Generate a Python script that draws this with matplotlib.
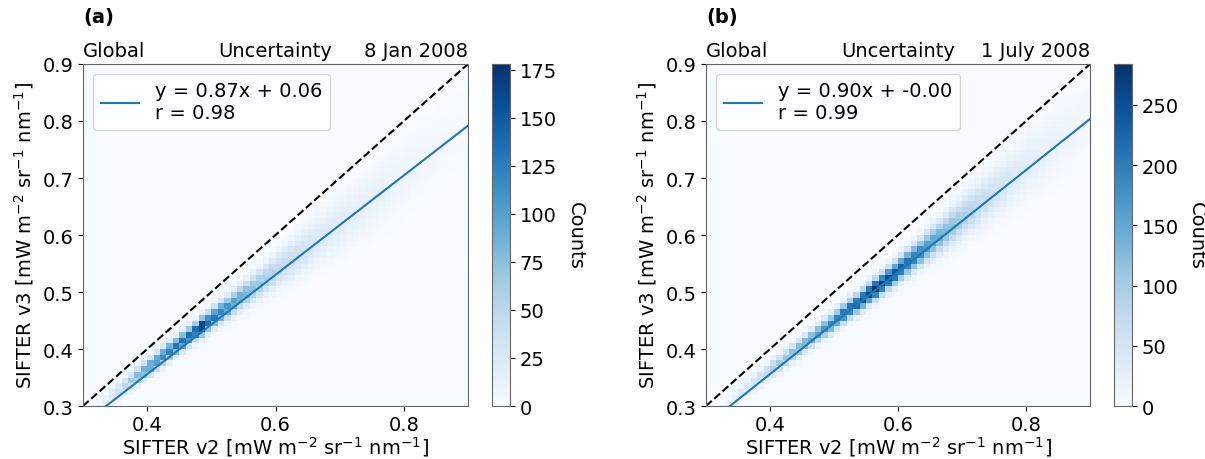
import numpy as np
import matplotlib
matplotlib.use("Agg")
import matplotlib.pyplot as plt
from matplotlib.lines import Line2D

# ---------------- data ----------------
bin_edges = np.round(np.arange(0.30, 0.9001, 0.01), 3)   # 60 bins, 0.01 wide
x_centers = (bin_edges[:-1] + bin_edges[1:]) / 2

# panel (a): 8 Jan 2008
fit_slope_a = 0.872
fit_intercept_a = 0.007
legend_a = "y = 0.87x + 0.06\nr = 0.98"
date_a = "8 Jan 2008"
cmax_a = 178
peak_a = [0, 3, 8, 16, 26, 38, 52, 66, 80, 92,
          102, 110, 118, 124, 130, 135, 140, 146, 178, 140,
          130, 120, 110, 100, 92, 84, 76, 68, 60, 54,
          48, 44, 40, 36, 33, 30, 27, 25, 23, 21,
          19, 17, 16, 15, 14, 13, 12, 11, 10, 9,
          8, 7, 6, 5, 5, 4, 4, 3, 3, 3]
spread_a = [0.009, 0.009, 0.009, 0.009, 0.009, 0.009, 0.009, 0.009, 0.0095, 0.0095,
            0.0095, 0.01, 0.01, 0.01, 0.01, 0.0105, 0.0105, 0.0105, 0.011, 0.011,
            0.0115, 0.012, 0.0125, 0.013, 0.0135, 0.014, 0.015, 0.016, 0.017, 0.018,
            0.019, 0.02, 0.021, 0.022, 0.023, 0.024, 0.025, 0.026, 0.027, 0.028,
            0.029, 0.03, 0.031, 0.032, 0.033, 0.034, 0.035, 0.035, 0.036, 0.036,
            0.037, 0.037, 0.038, 0.038, 0.038, 0.038, 0.038, 0.038, 0.038, 0.038]
offset_a = [0.01, 0.01, 0.01, 0.01, 0.01, 0.01, 0.01, 0.01, 0.01, 0.01,
            0.01, 0.01, 0.01, 0.01, 0.01, 0.01, 0.01, 0.01, 0.01, 0.009,
            0.009, 0.009, 0.008, 0.008, 0.008, 0.007, 0.007, 0.007, 0.006, 0.006,
            0.006, 0.005, 0.005, 0.005, 0.004, 0.004, 0.004, 0.003, 0.003, 0.003,
            0.002, 0.002, 0.002, 0.002, 0.002, 0.002, 0.002, 0.002, 0.002, 0.002,
            0.002, 0.002, 0.002, 0.002, 0.002, 0.002, 0.002, 0.002, 0.002, 0.002]

# panel (b): 1 July 2008
fit_slope_b = 0.895
fit_intercept_b = -0.002
legend_b = "y = 0.90x + -0.00\nr = 0.99"
date_b = "1 July 2008"
cmax_b = 284
peak_b = [0, 3, 8, 16, 26, 36, 46, 57, 68, 80,
          92, 102, 112, 122, 132, 142, 152, 162, 174, 186,
          198, 210, 222, 236, 250, 265, 284, 270, 256, 244,
          232, 218, 204, 190, 174, 158, 144, 130, 118, 106,
          95, 85, 76, 68, 60, 53, 47, 42, 37, 33,
          29, 26, 23, 20, 18, 16, 14, 12, 11, 10]
spread_b = [0.009, 0.009, 0.009, 0.009, 0.009, 0.009, 0.009, 0.009, 0.009, 0.009,
            0.0095, 0.0095, 0.0095, 0.0095, 0.01, 0.01, 0.01, 0.01, 0.0105, 0.0105,
            0.0105, 0.011, 0.011, 0.011, 0.0115, 0.0115, 0.012, 0.012, 0.0125, 0.013,
            0.0135, 0.014, 0.0145, 0.015, 0.016, 0.017, 0.018, 0.019, 0.02, 0.021,
            0.022, 0.023, 0.024, 0.025, 0.026, 0.027, 0.028, 0.029, 0.03, 0.031,
            0.032, 0.033, 0.034, 0.035, 0.036, 0.037, 0.038, 0.038, 0.038, 0.038]
offset_b = [0.008, 0.008, 0.008, 0.008, 0.008, 0.008, 0.008, 0.007, 0.007, 0.007,
            0.006, 0.006, 0.006, 0.005, 0.005, 0.005, 0.004, 0.004, 0.004, 0.003,
            0.003, 0.003, 0.003, 0.002, 0.002, 0.002, 0.002, 0.002, 0.002, 0.002,
            0.003, 0.003, 0.003, 0.003, 0.004, 0.004, 0.004, 0.004, 0.005, 0.005,
            0.005, 0.005, 0.005, 0.005, 0.005, 0.005, 0.005, 0.005, 0.005, 0.005,
            0.005, 0.005, 0.005, 0.005, 0.005, 0.005, 0.005, 0.005, 0.005, 0.005]

panel_tags = ["(a)", "(b)"]
region_label = "Global"
product_label = "Uncertainty"
xlabel = "SIFTER v2 [mW m$^{-2}$ sr$^{-1}$ nm$^{-1}$]"
ylabel = "SIFTER v3 [mW m$^{-2}$ sr$^{-1}$ nm$^{-1}$]"
cbar_label = "Counts"
xticks = [0.4, 0.6, 0.8]
yticks = [0.3, 0.4, 0.5, 0.6, 0.7, 0.8, 0.9]
cbar_ticks_a = [0, 25, 50, 75, 100, 125, 150, 175]
cbar_ticks_b = [0, 50, 100, 150, 200, 250]


def column_counts(slope, intercept, peak, spread, offset):
    yc = x_centers
    ridge = slope * x_centers + intercept + np.asarray(offset)
    pk = np.asarray(peak, float)[:, None]
    sg = np.asarray(spread, float)[:, None]
    H = pk * np.exp(-0.5 * ((yc[None, :] - ridge[:, None]) / sg) ** 2)
    return H  # shape (nx, ny)


plt.rcParams['font.family'] = ['DejaVu Sans']
FS = 14
plt.rcParams['font.size'] = FS

fig = plt.figure(figsize=(12.05, 4.6), dpi=100)

axes_pos = [[0.0689, 0.1152, 0.3195, 0.7435], [0.5859, 0.1152, 0.3187, 0.7435]]
cbar_pos = [[0.4083, 0.1152, 0.0149, 0.7435], [0.9245, 0.1152, 0.0147, 0.7435]]

panels = [
    (fit_slope_a, fit_intercept_a, peak_a, spread_a, offset_a, cmax_a, legend_a, date_a, cbar_ticks_a),
    (fit_slope_b, fit_intercept_b, peak_b, spread_b, offset_b, cmax_b, legend_b, date_b, cbar_ticks_b),
]

for k, (sl, ic, pk, sp, of, cmax, leg, date, cticks) in enumerate(panels):
    ax = fig.add_axes(axes_pos[k])
    cax = fig.add_axes(cbar_pos[k])
    H = column_counts(sl, ic, pk, sp, of)
    mesh = ax.pcolormesh(bin_edges, bin_edges, H.T, cmap='Blues', vmin=0, vmax=cmax)
    lo, hi = bin_edges[0], bin_edges[-1]
    ax.plot([lo, hi], [lo, hi], 'k--', lw=1.5)
    xs = np.array([lo, hi])
    ax.plot(xs, sl * xs + ic, color='#1f77b4', lw=1.5)
    ax.set_xlim(lo, hi)
    ax.set_ylim(lo, hi)
    ax.set_xticks(xticks)
    ax.set_yticks(yticks)
    ax.tick_params(labelsize=FS, pad=3)
    ax.set_xlabel(xlabel, fontsize=FS, labelpad=0)
    ax.set_ylabel(ylabel, fontsize=FS, labelpad=5)
    for s in ax.spines.values():
        s.set_edgecolor('0.4')
    ax.set_title(region_label, loc='left', fontsize=FS, pad=6)
    ax.set_title(product_label, loc='center', fontsize=FS, pad=6)
    ax.set_title(date, loc='right', fontsize=FS, pad=6)
    ax.text(0.0, 1.11, panel_tags[k], transform=ax.transAxes, fontsize=FS,
            fontweight='bold', ha='left', va='bottom')
    handle = Line2D([], [], color='#1f77b4', lw=1.5)
    ax.legend([handle], [leg], loc='upper left', fontsize=FS, handlelength=2.0,
              borderpad=0.4)
    cb = fig.colorbar(mesh, cax=cax, ticks=cticks)
    cb.outline.set_edgecolor('0.4')
    cb.ax.tick_params(labelsize=FS)
    cb.set_label(cbar_label, rotation=270, labelpad=20, fontsize=FS)

fig.savefig('out.png', dpi=100)
